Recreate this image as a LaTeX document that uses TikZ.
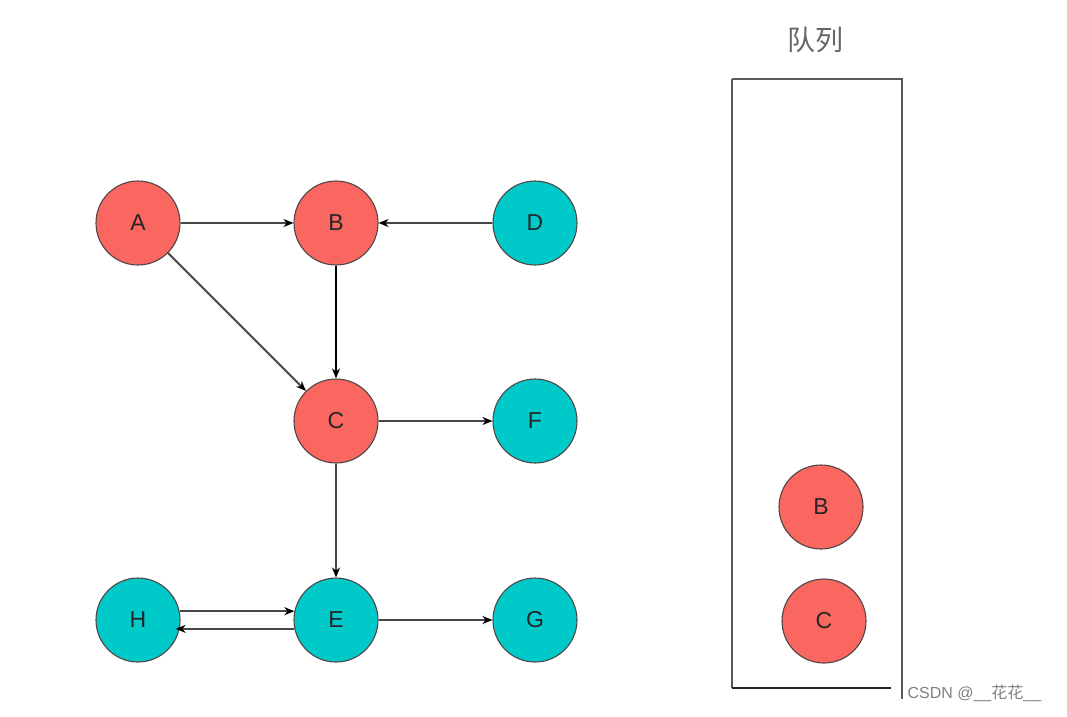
\documentclass[tikz,border=0pt]{standalone}
\usepackage{fontspec}
\setmainfont{Liberation Sans}
\newfontfamily\cjk{Noto Sans CJK SC}
\usetikzlibrary{arrows.meta}
\definecolor{salmonred}{RGB}{250, 102, 96}
\definecolor{tealcyan}{RGB}{0, 201, 201}
\definecolor{rimgray}{RGB}{80, 70, 70}
\definecolor{linegray}{RGB}{70, 70, 70}
\tikzset{
    vtx/.style={circle, minimum size=84pt, inner sep=0pt, draw=rimgray, line width=1.1pt,
                font=\fontsize{23}{26}\selectfont, text=black!85},
    redv/.style={vtx, fill=salmonred},
    cyanv/.style={vtx, fill=tealcyan},
    edge/.style={draw=linegray, line width=1.8pt, -{Stealth[length=10pt,width=8pt,color=black]}},
}

\begin{document}
\begin{tikzpicture}[x=1pt, y=-1pt]
            \useasboundingbox                                            (0,0) rectangle (1067,716);
            % graph
            \node[redv]  (A) at (138,223) {A};
            \node[redv]  (B) at (336,223) {B};
            \node[cyanv] (D) at (535,223) {D};
            \node[redv]  (C) at (336,421) {C};
            \node[cyanv] (F) at (535,421) {F};
            \node[cyanv] (H) at (138,620) {H};
            \node[cyanv] (E) at (336,620) {E};
            \node[cyanv] (G) at (535,620) {G};
            \draw[edge]                                                  (A) -- (B);
            \draw[edge]                                                  (D) -- (B);
            \draw[edge, draw=black, line width=2.6pt]                    (B) -- (C);
            \draw[edge]                                                  (A) -- (C);
            \draw[edge]                                                  (C) -- (F);
            \draw[edge]                                                  (C) -- (E);
            \draw[edge]                                                  (E) -- (G);
            \draw[edge]                                                  (H.12) -- (E.168);
            \draw[edge]                                                  (E.192) -- ([xshift=-4pt]H.-12);
            % queue
            \node[font=\cjk\fontsize{28}{32}\selectfont, text=black!60] (title) at (815,40) {队列};
            \coordinate (qtl) at (732,79);
            \coordinate (qtr) at (902,79);
            \draw[draw=black!65, line width=2.6pt]                       (qtl) -- (qtr) -- (902,699);
            \draw[draw=black!65, line width=2.6pt]                       (qtl) -- (732,688);
            \draw[draw=black!85, line width=2.8pt]                       (732,688) -- (891,688);
            \node[redv]  (QB) at (821,507) {B};
            \node[redv]  (QC) at (824,621) {C};
            \node[font=\fontsize{16}{18}\selectfont, text=black!50, anchor=west] (mark) at (904,693) {CSDN @\_\_{\cjk 花花}\_\_};
        \end{tikzpicture}
\end{document}
